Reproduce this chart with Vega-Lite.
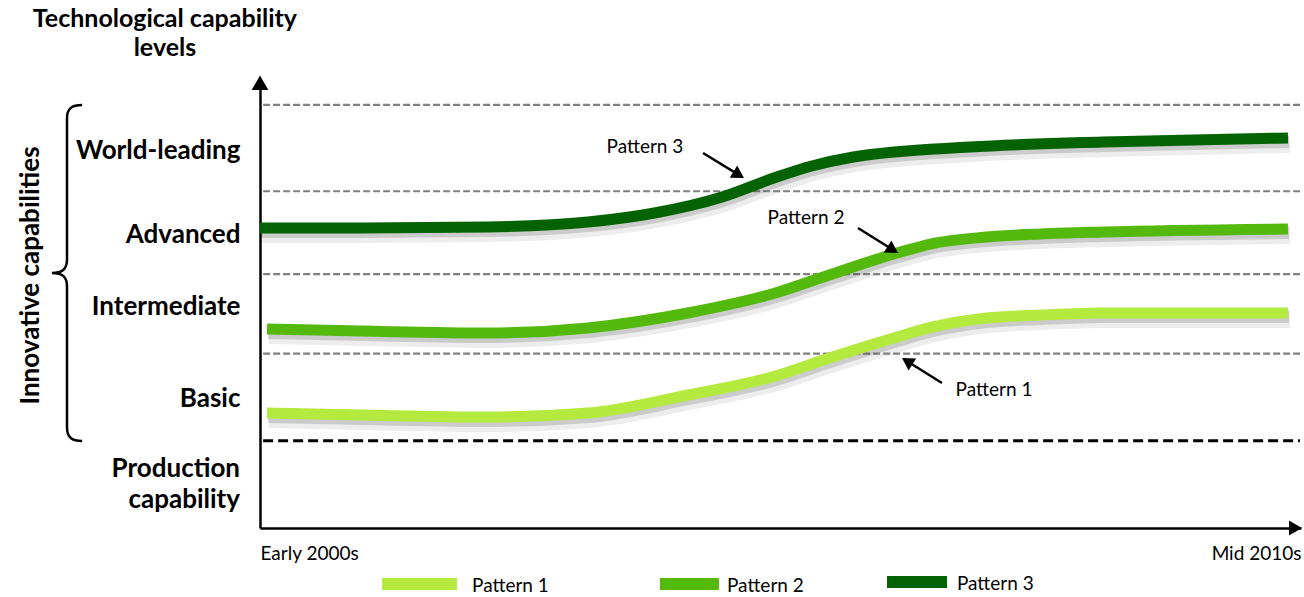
{
  "$schema": "https://vega.github.io/schema/vega-lite/v6.json",
  "width": 1041,
  "height": 440,
  "autosize": {"type": "none"},
  "padding": {"left": 260, "top": 88, "right": 3, "bottom": 69},
  "background": "white",
  "config": {"view": {"stroke": null}, "font": "Lato"},
  "datasets": {
    "curves": [
      {"pattern": "Pattern 3", "t": 0, "v": 3.545},
      {"pattern": "Pattern 3", "t": 9.8, "v": 3.545},
      {"pattern": "Pattern 3", "t": 21.9, "v": 3.557},
      {"pattern": "Pattern 3", "t": 31.5, "v": 3.616},
      {"pattern": "Pattern 3", "t": 37.9, "v": 3.723},
      {"pattern": "Pattern 3", "t": 44.4, "v": 3.912},
      {"pattern": "Pattern 3", "t": 49.5, "v": 4.142},
      {"pattern": "Pattern 3", "t": 53.0, "v": 4.278},
      {"pattern": "Pattern 3", "t": 57.0, "v": 4.385},
      {"pattern": "Pattern 3", "t": 68.2, "v": 4.503},
      {"pattern": "Pattern 3", "t": 81.0, "v": 4.562},
      {"pattern": "Pattern 3", "t": 98.75, "v": 4.609},
      {"pattern": "Pattern 2", "t": 0.67, "v": 2.352},
      {"pattern": "Pattern 2", "t": 9.8, "v": 2.328},
      {"pattern": "Pattern 2", "t": 21.9, "v": 2.305},
      {"pattern": "Pattern 2", "t": 31.5, "v": 2.364},
      {"pattern": "Pattern 2", "t": 41.1, "v": 2.541},
      {"pattern": "Pattern 2", "t": 49.5, "v": 2.777},
      {"pattern": "Pattern 2", "t": 54.4, "v": 2.978},
      {"pattern": "Pattern 2", "t": 61.2, "v": 3.25},
      {"pattern": "Pattern 2", "t": 64.4, "v": 3.356},
      {"pattern": "Pattern 2", "t": 69.8, "v": 3.439},
      {"pattern": "Pattern 2", "t": 75.0, "v": 3.475},
      {"pattern": "Pattern 2", "t": 81.0, "v": 3.498},
      {"pattern": "Pattern 2", "t": 98.75, "v": 3.534},
      {"pattern": "Pattern 1", "t": 0.67, "v": 1.359},
      {"pattern": "Pattern 1", "t": 9.8, "v": 1.335},
      {"pattern": "Pattern 1", "t": 21.9, "v": 1.312},
      {"pattern": "Pattern 1", "t": 31.5, "v": 1.359},
      {"pattern": "Pattern 1", "t": 41.1, "v": 1.572},
      {"pattern": "Pattern 1", "t": 49.5, "v": 1.796},
      {"pattern": "Pattern 1", "t": 54.4, "v": 1.997},
      {"pattern": "Pattern 1", "t": 61.2, "v": 2.257},
      {"pattern": "Pattern 1", "t": 64.4, "v": 2.37},
      {"pattern": "Pattern 1", "t": 69.8, "v": 2.482},
      {"pattern": "Pattern 1", "t": 75.0, "v": 2.517},
      {"pattern": "Pattern 1", "t": 81.0, "v": 2.541},
      {"pattern": "Pattern 1", "t": 98.75, "v": 2.541}
    ],
    "bounds": [
      {"edge": "production / basic", "v": 1.03},
      {"edge": "basic / intermediate", "v": 2.06},
      {"edge": "intermediate / advanced", "v": 3.0},
      {"edge": "advanced / world-leading", "v": 3.98},
      {"edge": "world-leading top", "v": 5.0}
    ],
    "one": [{}]
  },
  "layer": [
    {
      "data": {"name": "curves"},
      "mark": {"type": "line", "interpolate": "monotone", "color": "#000", "opacity": 0.07, "strokeWidth": 18, "xOffset": 2, "yOffset": 6},
      "encoding": {
        "x": {
          "field": "t",
          "type": "quantitative",
          "scale": {"domain": [0, 100], "nice": false, "zero": false},
          "axis": {
            "title": null,
            "values": [0, 100],
            "labelExpr": "datum.value < 50 ? 'Early 2000s' : 'Mid 2010s'",
            "labelFlush": true,
            "ticks": false,
            "grid": false,
            "domainColor": "#000",
            "domainWidth": 2.5,
            "labelFont": "Lato",
            "labelFontSize": 19,
            "labelColor": "#000",
            "labelPadding": 25,
            "labelBaseline": "middle"
          }
        },
        "y": {
          "field": "v",
          "type": "quantitative",
          "scale": {"domain": [0, 5.2], "nice": false, "zero": false},
          "axis": {
            "title": "Innovative capabilities",
            "titleX": -230,
            "titleY": 187,
            "titleAngle": 270,
            "titleAlign": "center",
            "titleBaseline": "middle",
            "titleFont": "Lato",
            "titleFontSize": 26,
            "titleFontWeight": "bold",
            "titleColor": "#000",
            "values": [1.536, 2.612, 3.463, 4.467],
            "labelExpr": "datum.value > 4 ? 'World-leading' : datum.value > 3 ? 'Advanced' : datum.value > 2 ? 'Intermediate' : 'Basic'",
            "ticks": false,
            "grid": false,
            "domainColor": "#000",
            "domainWidth": 2.5,
            "labelFont": "Lato",
            "labelFontSize": 26,
            "labelFontWeight": "bold",
            "labelColor": "#000",
            "labelPadding": 20,
            "labelAlign": "right",
            "labelBaseline": "middle",
            "labelOverlap": false
          }
        },
        "detail": {"field": "pattern", "type": "nominal"}
      }
    },
    {
      "data": {"name": "bounds"},
      "transform": [{"filter": "datum.v > 1.5"}],
      "mark": {"type": "rule", "color": "#808080", "strokeWidth": 2.2, "strokeDash": [7, 3]},
      "encoding": {
        "x": {"datum": 0.3, "type": "quantitative"},
        "x2": {"datum": 99.9},
        "y": {"field": "v", "type": "quantitative"}
      }
    },
    {
      "data": {"name": "bounds"},
      "transform": [{"filter": "datum.v < 1.5"}],
      "mark": {"type": "rule", "color": "#000", "strokeWidth": 3, "strokeDash": [10, 5]},
      "encoding": {
        "x": {"datum": 0.3, "type": "quantitative"},
        "x2": {"datum": 99.9},
        "y": {"field": "v", "type": "quantitative"}
      }
    },
    {
      "data": {"name": "curves"},
      "mark": {"type": "line", "interpolate": "monotone", "color": "#000", "opacity": 0.14, "strokeWidth": 12, "xOffset": 1, "yOffset": 4},
      "encoding": {
        "x": {"field": "t", "type": "quantitative"},
        "y": {"field": "v", "type": "quantitative"},
        "detail": {"field": "pattern", "type": "nominal"}
      }
    },
    {
      "data": {"name": "curves"},
      "mark": {"type": "line", "interpolate": "monotone", "strokeWidth": 11},
      "encoding": {
        "x": {"field": "t", "type": "quantitative"},
        "y": {"field": "v", "type": "quantitative"},
        "color": {
          "field": "pattern",
          "type": "nominal",
          "scale": {"domain": ["Pattern 1", "Pattern 2", "Pattern 3"], "range": ["#b3ea3d", "#54b90d", "#036303"]},
          "legend": null
        }
      }
    },
    {
      "data": {"name": "one"},
      "mark": {"type": "point", "shape": "triangle-up", "size": 280, "filled": true, "color": "#000", "opacity": 1},
      "encoding": {
        "x": {"datum": 0, "type": "quantitative"},
        "y": {"datum": 5.262, "type": "quantitative"}
      }
    },
    {
      "data": {"name": "one"},
      "mark": {"type": "point", "shape": "triangle-right", "size": 225, "filled": true, "color": "#000", "opacity": 1},
      "encoding": {
        "x": {"datum": 99.47, "type": "quantitative"},
        "y": {"datum": 0, "type": "quantitative"}
      }
    },
    {
      "data": {"name": "one"},
      "mark": {"type": "point", "shape": "M0.09 -1 C0.03 -1 0 -0.98 0 -0.92 L0 -0.08 C0 -0.02 -0.03 0 -0.09 0 C-0.03 0 0 0.02 0 0.08 L0 0.92 C0 0.98 0.03 1 0.09 1", "size": 112896, "filled": false, "color": "#000", "strokeWidth": 2.5, "opacity": 1},
      "encoding": {
        "x": {"datum": -18.54, "type": "quantitative"},
        "y": {"datum": 3.014, "type": "quantitative"}
      }
    },
    {
      "data": {"name": "one"},
      "mark": {"type": "text", "font": "Lato", "fontSize": 25, "fontWeight": "bold", "color": "#000", "align": "center", "baseline": "middle", "lineBreak": "\n", "lineHeight": 29},
      "encoding": {
        "x": {"datum": -9.13, "type": "quantitative"},
        "y": {"datum": 6.015, "type": "quantitative"},
        "text": {"value": "Technological capability\nlevels"}
      }
    },
    {
      "data": {"name": "one"},
      "mark": {"type": "text", "font": "Lato", "fontSize": 26, "fontWeight": "bold", "color": "#000", "align": "right", "baseline": "middle", "lineBreak": "\n", "lineHeight": 31, "dx": -20},
      "encoding": {
        "x": {"datum": 0, "type": "quantitative"},
        "y": {"datum": 0.694, "type": "quantitative"},
        "text": {"value": "Production\ncapability"}
      }
    },
    {
      "data": {"name": "one"},
      "mark": {"type": "rule", "color": "#000", "strokeWidth": 2.5},
      "encoding": {
        "x": {"datum": 42.56, "type": "quantitative"},
        "y": {"datum": 4.432, "type": "quantitative"},
        "x2": {"datum": 45.99},
        "y2": {"datum": 4.174}
      }
    },
    {
      "data": {"name": "one"},
      "mark": {"type": "point", "shape": "triangle-right", "size": 200, "angle": 31.4, "filled": true, "color": "#000", "opacity": 1},
      "encoding": {
        "x": {"datum": 45.99, "type": "quantitative"},
        "y": {"datum": 4.174, "type": "quantitative"}
      }
    },
    {
      "data": {"name": "one"},
      "mark": {"type": "text", "font": "Lato", "fontSize": 19, "color": "#000", "align": "center", "baseline": "middle"},
      "encoding": {
        "x": {"datum": 36.98, "type": "quantitative"},
        "y": {"datum": 4.503, "type": "quantitative"},
        "text": {"value": "Pattern 3"}
      }
    },
    {
      "data": {"name": "one"},
      "mark": {"type": "rule", "color": "#000", "strokeWidth": 2.5},
      "encoding": {
        "x": {"datum": 57.44, "type": "quantitative"},
        "y": {"datum": 3.545, "type": "quantitative"},
        "x2": {"datum": 60.79},
        "y2": {"datum": 3.288}
      }
    },
    {
      "data": {"name": "one"},
      "mark": {"type": "point", "shape": "triangle-right", "size": 200, "angle": 32, "filled": true, "color": "#000", "opacity": 1},
      "encoding": {
        "x": {"datum": 60.79, "type": "quantitative"},
        "y": {"datum": 3.288, "type": "quantitative"}
      }
    },
    {
      "data": {"name": "one"},
      "mark": {"type": "text", "font": "Lato", "fontSize": 19, "color": "#000", "align": "center", "baseline": "middle"},
      "encoding": {
        "x": {"datum": 52.45, "type": "quantitative"},
        "y": {"datum": 3.664, "type": "quantitative"},
        "text": {"value": "Pattern 2"}
      }
    },
    {
      "data": {"name": "one"},
      "mark": {"type": "rule", "color": "#000", "strokeWidth": 2.5},
      "encoding": {
        "x": {"datum": 65.51, "type": "quantitative"},
        "y": {"datum": 1.714, "type": "quantitative"},
        "x2": {"datum": 62.17},
        "y2": {"datum": 1.971}
      }
    },
    {
      "data": {"name": "one"},
      "mark": {"type": "point", "shape": "triangle-right", "size": 200, "angle": 212, "filled": true, "color": "#000", "opacity": 1},
      "encoding": {
        "x": {"datum": 62.17, "type": "quantitative"},
        "y": {"datum": 1.971, "type": "quantitative"}
      }
    },
    {
      "data": {"name": "one"},
      "mark": {"type": "text", "font": "Lato", "fontSize": 19, "color": "#000", "align": "center", "baseline": "middle"},
      "encoding": {
        "x": {"datum": 70.51, "type": "quantitative"},
        "y": {"datum": 1.631, "type": "quantitative"},
        "text": {"value": "Pattern 1"}
      }
    },
    {
      "data": {"name": "one"},
      "mark": {"type": "rect"},
      "encoding": {
        "x": {"datum": 11.72, "type": "quantitative"},
        "x2": {"datum": 18.92},
        "y": {"datum": -0.591, "type": "quantitative"},
        "y2": {"datum": -0.733},
        "color": {"datum": "Pattern 1", "type": "nominal", "legend": null}
      }
    },
    {
      "data": {"name": "one"},
      "mark": {"type": "text", "font": "Lato", "fontSize": 19, "color": "#000", "align": "left", "baseline": "middle"},
      "encoding": {
        "x": {"datum": 20.37, "type": "quantitative"},
        "y": {"datum": -0.685, "type": "quantitative"},
        "text": {"value": "Pattern 1"}
      }
    },
    {
      "data": {"name": "one"},
      "mark": {"type": "rect"},
      "encoding": {
        "x": {"datum": 38.42, "type": "quantitative"},
        "x2": {"datum": 44.09},
        "y": {"datum": -0.591, "type": "quantitative"},
        "y2": {"datum": -0.733},
        "color": {"datum": "Pattern 2", "type": "nominal", "legend": null}
      }
    },
    {
      "data": {"name": "one"},
      "mark": {"type": "text", "font": "Lato", "fontSize": 19, "color": "#000", "align": "left", "baseline": "middle"},
      "encoding": {
        "x": {"datum": 44.86, "type": "quantitative"},
        "y": {"datum": -0.685, "type": "quantitative"},
        "text": {"value": "Pattern 2"}
      }
    },
    {
      "data": {"name": "one"},
      "mark": {"type": "rect"},
      "encoding": {
        "x": {"datum": 60.23, "type": "quantitative"},
        "x2": {"datum": 66.0},
        "y": {"datum": -0.567, "type": "quantitative"},
        "y2": {"datum": -0.709},
        "color": {"datum": "Pattern 3", "type": "nominal", "legend": null}
      }
    },
    {
      "data": {"name": "one"},
      "mark": {"type": "text", "font": "Lato", "fontSize": 19, "color": "#000", "align": "left", "baseline": "middle"},
      "encoding": {
        "x": {"datum": 66.95, "type": "quantitative"},
        "y": {"datum": -0.662, "type": "quantitative"},
        "text": {"value": "Pattern 3"}
      }
    }
  ]
}
